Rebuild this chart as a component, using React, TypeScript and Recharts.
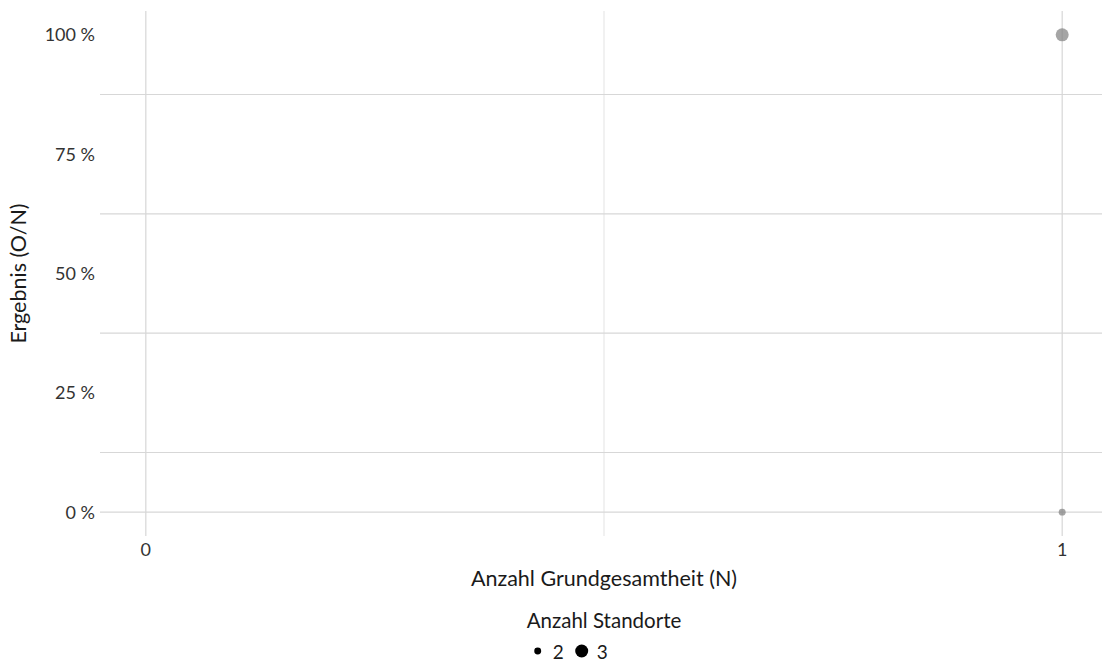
import { ScatterChart, Scatter, XAxis, YAxis, ZAxis, CartesianGrid } from "recharts";

// Anzahl Grundgesamtheit (N), Ergebnis (O/N), Anzahl Standorte
const nValues = [1, 1];
const ratioValues = [1, 0];
const standorteValues = [3, 2];

const xTicks = [0, 1];
const xMinor = [0.5];
const yTicks = [0, 0.25, 0.5, 0.75, 1];
const yMinor = [0.125, 0.375, 0.625, 0.875];
const legendSizes = [2, 3];

const points = nValues.map((n, i) => ({
    n,
    ratio: ratioValues[i],
    standorte: standorteValues[i],
}));

const FONT = "Lato, 'Open Sans', sans-serif";

const fmtPct = (v: number) => `${Math.round(v * 100)} %`;

const XTitle = (props: any) => {
    const { x, y, width } = props.viewBox;
    return (
        <text x={x + width / 2} y={y + 42} textAnchor="middle" dominantBaseline="central"
            fontSize={21.5} fill="#1a1a1a" fontFamily={FONT}>
            Anzahl Grundgesamtheit (N)
        </text>
    );
};

const YTitle = (props: any) => {
    const { y, height } = props.viewBox;
    const cy = y + height / 2;
    return (
        <text x={18} y={cy} transform={`rotate(-90 18 ${cy})`} textAnchor="middle"
            dominantBaseline="central" fontSize={21.5} fill="#1a1a1a" fontFamily={FONT}>
            Ergebnis (O/N)
        </text>
    );
};

export default function App() {
    return (
        <div style={{ position: "absolute", left: 0, top: 0, width: 1102, height: 666, overflow: "hidden", background: "#fff", fontFamily: FONT }}>
            <ScatterChart width={1110} height={666} margin={{ top: 11, right: 2, left: 0, bottom: 0 }}>
                <CartesianGrid horizontal={false} verticalValues={xMinor} stroke="#e8e8e8" strokeWidth={1.2} />
                <CartesianGrid vertical={false} horizontalValues={[...yTicks, ...yMinor]} stroke="#d7d7d7" strokeWidth={1.2} />
                <CartesianGrid horizontal={false} verticalValues={xTicks} stroke="#d7d7d7" strokeWidth={1.2} />
                <XAxis
                    type="number"
                    dataKey="n"
                    domain={[-0.05, 1.05]}
                    ticks={xTicks}
                    axisLine={false}
                    tickLine={false}
                    tickSize={0}
                    tickMargin={7}
                    height={130}
                    tick={{ fontSize: 18, fill: "#333", fontFamily: FONT }}
                    label={<XTitle />}
                />
                <YAxis
                    type="number"
                    dataKey="ratio"
                    domain={[-0.05, 1.05]}
                    ticks={yTicks}
                    tickFormatter={fmtPct}
                    axisLine={false}
                    tickLine={false}
                    tickSize={0}
                    tickMargin={5}
                    width={100}
                    tick={{ fontSize: 18, fill: "#333", fontFamily: FONT }}
                    label={<YTitle />}
                />
                <ZAxis type="number" dataKey="standorte" domain={[2, 3]} range={[38, 133]} />
                <Scatter data={points} fill="#7f7f7f" fillOpacity={0.7} isAnimationActive={false} />
            </ScatterChart>
            <div style={{ position: "absolute", left: 604, top: 608, transform: "translateX(-50%)", color: "#1a1a1a" }}>
                <div style={{ fontSize: 20.5, whiteSpace: "nowrap" }}>Anzahl Standorte</div>
                <div style={{ display: "flex", alignItems: "center", fontSize: 19, marginTop: 7, marginLeft: 3 }}>
                    {legendSizes.map((s, i) => {
                        const r = Math.sqrt((38 + (s - 2) * 95) / Math.PI);
                        return (
                            <div key={s} style={{ display: "flex", alignItems: "center", marginLeft: i === 0 ? 0 : 10 }}>
                                <svg width={16} height={24}>
                                    <circle cx={8} cy={12} r={r} fill="#000" />
                                </svg>
                                <span style={{ marginLeft: 7 }}>{s}</span>
                            </div>
                        );
                    })}
                </div>
            </div>
        </div>
    );
}
